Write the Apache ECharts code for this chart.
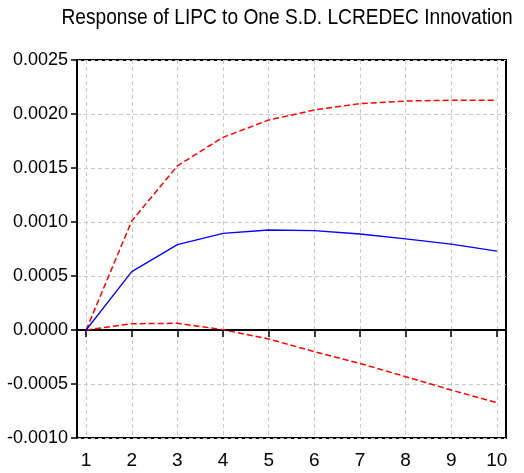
<!DOCTYPE html>
<html>
<head>
<meta charset="utf-8">
<script src="https://cdn.jsdelivr.net/npm/echarts@6/dist/echarts.min.js"></script>
<style>html,body{margin:0;padding:0;background:#fff}#c{width:524px;height:473px}</style>
</head>
<body>
<div id="c"></div>
<script>
const periods = [1, 2, 3, 4, 5, 6, 7, 8, 9, 10];
const response = [0, 0.00054, 0.00079, 0.000895, 0.000926, 0.00092, 0.000889, 0.000843, 0.000796, 0.000731];
const upperBand = [0, 0.00101, 0.00152, 0.001784, 0.001944, 0.002037, 0.002096, 0.00212, 0.002127, 0.002127];
const lowerBand = [0, 0.000058, 0.000062, 0.000003, -0.000083, -0.0002, -0.000309, -0.000432, -0.000556, -0.000673];
const yTicks = [-0.0010, -0.0005, 0.0000, 0.0005, 0.0010, 0.0015, 0.0020, 0.0025];
const titleText = 'Response of LIPC to One S.D. LCREDEC Innovation';

const font = 'Liberation Sans, Arial, sans-serif';
const pair = arr => periods.map((p, i) => [p, arr[i]]);

const chart = echarts.init(document.getElementById('c'), null, {renderer: 'canvas'});
chart.setOption({
  animation: false,
  backgroundColor: '#fff',
  graphic: [{
    type: 'text', x: 287, y: 18, scaleX: 0.87, scaleY: 1,
    style: {text: titleText, fontFamily: font, fontSize: 22, fill: '#000', align: 'center', verticalAlign: 'middle'}
  }],
  grid: {left: 77, right: 18, top: 60, bottom: 35, show: true, borderColor: '#000', borderWidth: 2, backgroundColor: 'transparent'},
  xAxis: {
    type: 'value', min: 0.8, max: 10.2,
    axisLine: {show: true, lineStyle: {color: '#000', width: 2}},
    axisTick: {show: true, length: 7, customValues: periods, lineStyle: {color: '#000', width: 1.5}},
    axisLabel: {customValues: periods, margin: 13, color: '#000', fontFamily: font, fontSize: 19},
    splitLine: {show: true, lineStyle: {color: '#c8c8c8', type: [4, 3], width: 1}}
  },
  yAxis: {
    type: 'value', min: -0.0010, max: 0.0025, interval: 0.0005,
    axisLine: {show: true, onZero: false, lineStyle: {color: '#000', width: 2}},
    axisTick: {show: true, length: 6, lineStyle: {color: '#000', width: 1.5}},
    axisLabel: {margin: 9, color: '#000', fontFamily: font, fontSize: 18, formatter: v => v.toFixed(4)},
    splitLine: {show: true, lineStyle: {color: '#c8c8c8', type: [4, 3], width: 1}}
  },
  series: [
    {type: 'line', data: pair(upperBand), showSymbol: false, symbol: 'none',
     lineStyle: {color: '#ff0000', width: 1.5, type: [6, 3]}, z: 3},
    {type: 'line', data: pair(lowerBand), showSymbol: false, symbol: 'none',
     lineStyle: {color: '#ff0000', width: 1.5, type: [6, 3]}, z: 3},
    {type: 'line', data: pair(response), showSymbol: false, symbol: 'none',
     lineStyle: {color: '#0000ff', width: 1.3}, z: 4,
     markLine: {silent: true, symbol: 'none', label: {show: false},
       lineStyle: {color: '#000', type: [1, 1], width: 1}, data: [{yAxis: 0}]}}
  ]
});
</script>
</body>
</html>
